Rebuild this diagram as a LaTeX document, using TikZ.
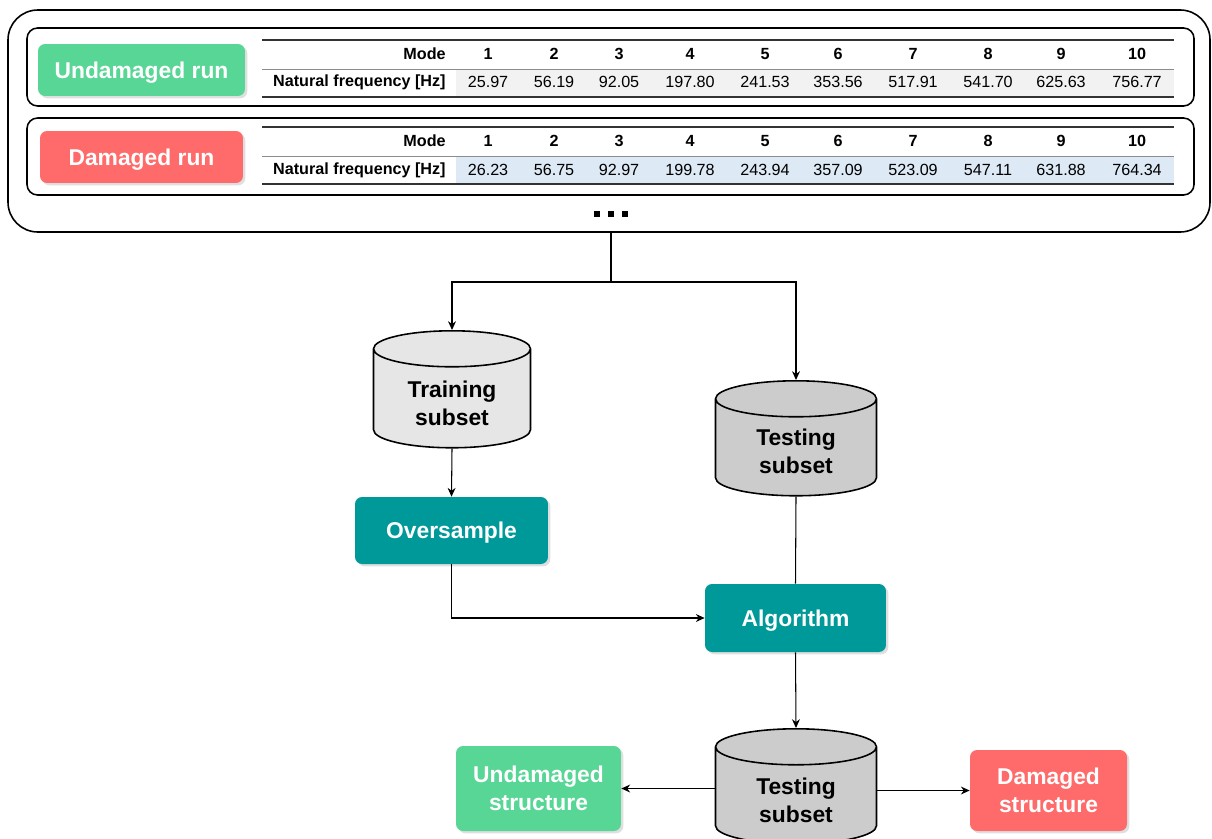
\documentclass[tikz,border=0pt]{standalone}
\usepackage{fontspec}
\setmainfont{Liberation Sans}
\usetikzlibrary{arrows.meta}
\usetikzlibrary{shapes.geometric}
\usetikzlibrary{shadows}

\definecolor{runGreen}{RGB}{88,214,150}
\definecolor{runRed}{RGB}{255,106,106}
\definecolor{algoTeal}{RGB}{0,153,153}
\definecolor{rowGray}{RGB}{242,242,242}
\definecolor{rowBlue}{RGB}{221,233,245}
\definecolor{trainFill}{RGB}{230,230,230}
\definecolor{testFill}{RGB}{204,204,204}

\tikzset{
  bigfont/.style={font=\fontsize{13}{16}\selectfont\bfseries},
  tabfont/.style={font=\fontsize{9.2}{11}\selectfont},
  tabhead/.style={font=\fontsize{9.2}{11}\selectfont\bfseries},
  colorbox/.style={bigfont, text=white, align=center, inner sep=0pt,
    text depth=0pt, rounded corners=4pt,
    drop shadow={shadow xshift=1.3pt, shadow yshift=-1.3pt, opacity=0.25}},
  dbase/.style={cylinder, shape border rotate=90, aspect=0.4, draw,
    line width=0.9pt, inner sep=0pt, text width=1.8cm, anchor=north},
  dblabel/.style={bigfont, align=center, inner sep=0pt},
  frame/.style={draw, line width=0.9pt},
  arr/.style={-{Stealth[length=5pt,width=4.5pt]}, line width=0.6pt},
  link/.style={line width=0.6pt},
}

\begin{document}
\begin{tikzpicture}[x=0.02cm, y=-0.02cm]
  \useasboundingbox (0,0) rectangle (1212,838);
  \clip (0,0) rectangle (1212,838);

  % frames round the two runs
  \draw[frame, rounded corners=17pt] (8,10) rectangle (1210,232);
  \coordinate (runsbot) at (611,232);
  \draw[frame, rounded corners=6pt] (27,28) rectangle (1194,106);
  \draw[frame, rounded corners=6pt] (27,118) rectangle (1194,195);

  \node[colorbox, fill=runGreen, minimum width=4.14cm, minimum height=1.04cm] (undrun) at (141.5,70) {Undamaged run};
  \node[colorbox, fill=runRed, minimum width=4.06cm, minimum height=1.04cm] (damrun) at (141.5,157) {Damaged run};

  % undamaged table
  \fill[rowGray] (456,70) rectangle (1174,96);
  \draw[line width=0.9pt, black!80] (262,40) -- (1174,40);
  \draw[line width=0.5pt, black!45] (262,69) -- (1174,69);
  \draw[line width=0.9pt, black!80] (262,97) -- (1174,97);
  \node[tabhead, anchor=east, inner xsep=0pt] (umode) at (446,54) {Mode};
  \node[tabhead, anchor=east, inner xsep=0pt] (ufreq) at (446,82) {Natural frequency [Hz]};
  \foreach \x/\m/\f in {488/1/25.97, 554/2/56.19, 619/3/92.05, 690/4/197.80, 765/5/241.53,
                        838/6/353.56, 913/7/517.91, 988/8/541.70, 1061/9/625.63, 1137/10/756.77} {
    \node[tabhead] (um\m) at (\x,54) {\m};
    \node[tabfont] (uf\m) at (\x,82) {\f};
  }

  % damaged table
  \fill[rowBlue] (456,157) rectangle (1174,183);
  \draw[line width=0.9pt, black!80] (262,127) -- (1174,127);
  \draw[line width=0.5pt, black!45] (262,156) -- (1174,156);
  \draw[line width=0.9pt, black!80] (262,184) -- (1174,184);
  \node[tabhead, anchor=east, inner xsep=0pt] (dmode) at (446,141) {Mode};
  \node[tabhead, anchor=east, inner xsep=0pt] (dfreq) at (446,170) {Natural frequency [Hz]};
  \foreach \x/\m/\f in {488/1/26.23, 554/2/56.75, 619/3/92.97, 690/4/199.78, 765/5/243.94,
                        838/6/357.09, 913/7/523.09, 988/8/547.11, 1061/9/631.88, 1137/10/764.34} {
    \node[tabhead] (dm\m) at (\x,141) {\m};
    \node[tabfont] (df\m) at (\x,170) {\f};
  }

  \foreach \x in {597,611,625}
    \fill (\x-2.8,211.2) rectangle (\x+2.8,216.8);

  % flow
  \node[dbase, fill=trainFill, minimum width=3.14cm, minimum height=2.34cm] (train) at (452,330) {};
  \node[dblabel] (trainlbl) at (452,403) {Training\\subset};
  \node[dbase, fill=testFill, minimum width=3.22cm, minimum height=2.3cm] (test) at (796,380) {};
  \node[dblabel] (testlbl) at (796,451.5) {Testing\\subset};
  \node[colorbox, fill=algoTeal, minimum width=3.86cm, minimum height=1.34cm] (over) at (451.5,530.5) {Oversample};
  \node[colorbox, fill=algoTeal, minimum width=3.62cm, minimum height=1.36cm] (algo) at (795.5,618) {Algorithm};
  \node[dbase, fill=testFill, minimum width=3.22cm, minimum height=2.3cm] (result) at (796,728) {};
  \node[dblabel] (resultlbl) at (796,800) {Testing\\subset};
  \node[colorbox, fill=runGreen, minimum width=3.3cm, minimum height=1.7cm] (undam) at (538.5,788.5) {Undamaged\\structure};
  \node[colorbox, fill=runRed, minimum width=3.14cm, minimum height=1.62cm] (dam) at (1048.5,790.5) {Damaged\\structure};

  \coordinate (split) at (611,282);
  \draw[link] (runsbot) -- (split);
  \draw[arr] (split) -| (train.north);
  \draw[arr] (split) -| (test.north);
  \draw[arr] (train.south) -- (over.north);
  \draw[arr] (over.south) |- (algo.west);
  \draw[link] (test.south) -- (algo.north);
  \draw[arr] (algo.south) -- (result.north);
  \draw[arr] (undam.east -| result.west) -- (undam.east);
  \draw[arr] (dam.west -| result.east) -- (dam.west);
\end{tikzpicture}
\end{document}
